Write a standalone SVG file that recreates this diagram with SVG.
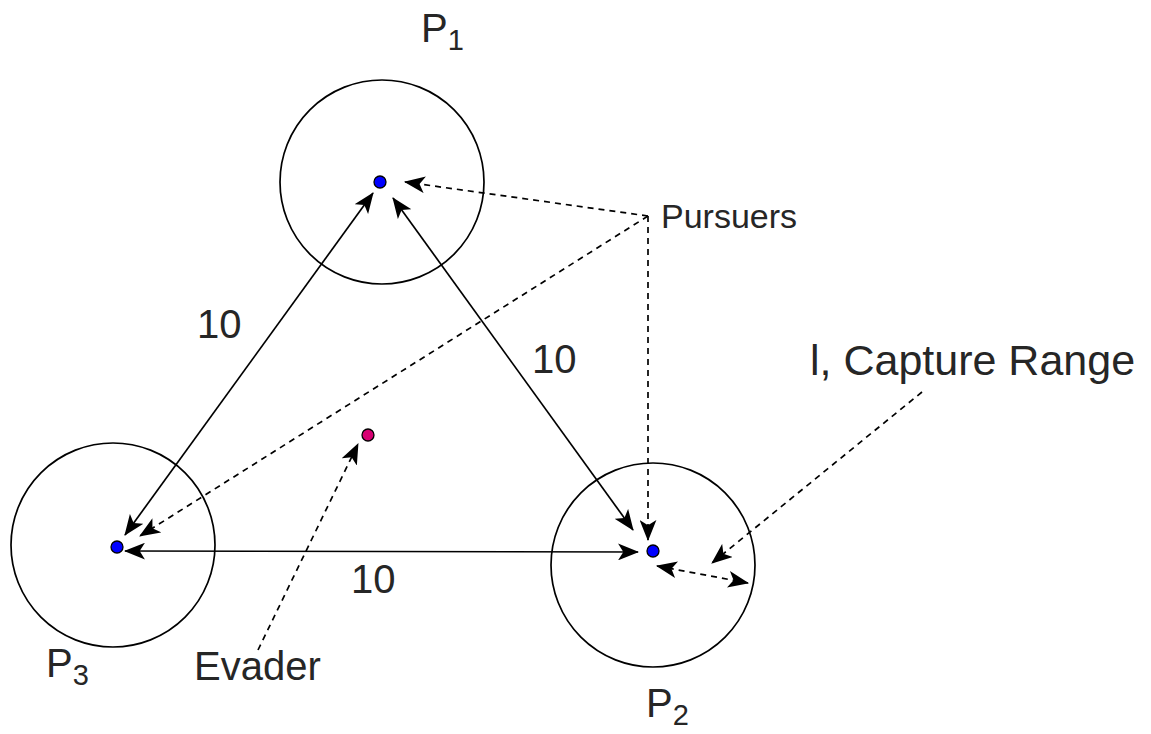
<svg xmlns="http://www.w3.org/2000/svg" width="1151" height="734" viewBox="0 0 1151 734">
<style>
.ring{fill:none;stroke:#000;stroke-width:1.7}
.pd{fill:#0000ff;stroke:#000;stroke-width:1.3}
.ev{fill:#d80073;stroke:#000;stroke-width:1.3}
.solid{fill:none;stroke:#000;stroke-width:1.7}
.dash{fill:none;stroke:#000;stroke-width:1.7;stroke-dasharray:6 5}
text{font-family:"Liberation Sans",Arial,sans-serif;fill:#262626}
.lbl{font-size:40px}
.big{font-size:43px}
.sub{font-size:29px}
.small{font-size:34px}
</style>
<defs>
<marker id="ah" viewBox="0 0 20 16" refX="19" refY="8" markerWidth="21" markerHeight="17" markerUnits="userSpaceOnUse" orient="auto-start-reverse">
<path d="M0,0 L20,8 L0,16 L5,8 Z" fill="#000"/>
</marker>
</defs>
<g id="P1">
<circle class="ring" cx="382" cy="182" r="102"/>
<circle class="pd" cx="380" cy="182" r="6"/>
<text class="lbl" x="421" y="42">P<tspan class="sub" dy="8">1</tspan></text>
</g>
<g id="P3">
<circle class="ring" cx="113" cy="545" r="102"/>
<circle class="pd" cx="117" cy="547" r="6"/>
<text class="lbl" x="46" y="677">P<tspan class="sub" dy="8">3</tspan></text>
</g>
<g id="P2">
<circle class="ring" cx="653" cy="565" r="102"/>
<circle class="pd" cx="653" cy="551" r="6"/>
<text class="lbl" x="646" y="717">P<tspan class="sub" dy="8">2</tspan></text>
</g>
<g id="evader">
<circle class="ev" cx="368" cy="435" r="6"/>
<text class="lbl" x="194" y="680">Evader</text>
</g>
<g id="pursuers-label">
<text class="small" x="661" y="228">Pursuers</text>
</g>
<g id="capture-label">
<text class="big" x="810" y="375">l, Capture Range</text>
</g>
<g id="distance-labels">
<text class="lbl" x="197" y="338">10</text>
<text class="lbl" x="532" y="373">10</text>
<text class="lbl" x="351" y="593">10</text>
</g>
<g id="connectors">
<line class="solid" x1="373" y1="193" x2="125" y2="535" marker-start="url(#ah)" marker-end="url(#ah)"/>
<line class="solid" x1="393" y1="198" x2="633" y2="530" marker-start="url(#ah)" marker-end="url(#ah)"/>
<line class="solid" x1="125" y1="551" x2="638" y2="552" marker-start="url(#ah)" marker-end="url(#ah)"/>
<path class="dash" d="M648,216 L405,182" marker-end="url(#ah)"/>
<path class="dash" d="M648,216 L140,536" marker-end="url(#ah)"/>
<path class="dash" d="M648,216 L648,540" marker-end="url(#ah)"/>
<path class="dash" d="M922,392 L712,563" marker-end="url(#ah)"/>
<path class="dash" d="M657,566 L748,583" marker-start="url(#ah)" marker-end="url(#ah)"/>
<path class="dash" d="M258,650 L358,444" marker-end="url(#ah)"/>
</g>
</svg>
